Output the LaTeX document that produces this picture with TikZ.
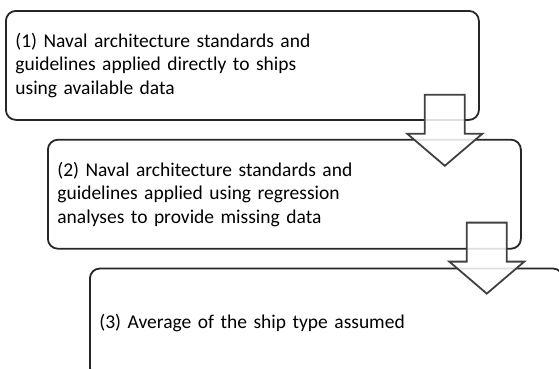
\documentclass[tikz,border=0pt]{standalone}
\usepackage{fontspec}
\setmainfont{Carlito}
\usetikzlibrary{positioning}
\tikzset{stagebox/.style={draw=black!85, line width=1.8pt, rounded corners=10pt,
           minimum width=473pt, minimum height=109pt, text width=454pt,
           inner xsep=9.5pt, align=left, font=\fontsize{19.5}{23.5}\selectfont},
         pics/downarrow/.style={code={
           \draw[draw=black!75, line width=1.8pt, fill=white, fill opacity=0.85]
             (-20,0) -- (-20,39) -- (-37.5,39) -- (0,71) -- (37.5,39) -- (20,39) -- (20,0) -- cycle;}}}

\begin{document}
\begin{tikzpicture}[x=1pt,y=-1pt]
\useasboundingbox (0,0) rectangle (559,368);
\clip (0,0) rectangle (559,368);
\node[stagebox, anchor=north west] (b1) at (5,10)
  {(1) Naval architecture standards and\\guidelines applied directly to ships\\using available data};
\node[stagebox, anchor=north west] (b2) at ([xshift=42pt,yshift=-18pt]b1.south west)
  {(2) Naval architecture standards and\\guidelines applied using regression\\analyses to provide missing data};
\node[stagebox, anchor=north west] (b3) at ([xshift=42pt,yshift=-18pt]b2.south west)
  {(3) Average of the ship type assumed};
\pic at ([xshift=-35pt,yshift=26pt]b1.south east) {downarrow};
\pic at ([xshift=-35pt,yshift=27pt]b2.south east) {downarrow};
\end{tikzpicture}
\end{document}
